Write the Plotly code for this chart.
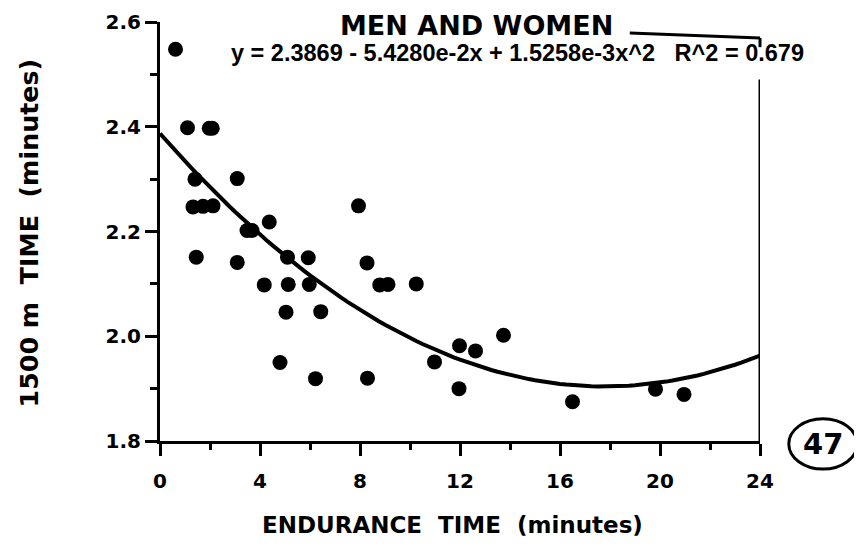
import numpy as np
import plotly.graph_objects as go

# ---- data ----
endurance_min = [0.62, 1.10, 1.97, 2.09, 1.40, 3.09, 1.32, 1.72, 2.12, 3.48, 3.68,
                 4.37, 1.45, 3.09, 5.10, 5.93, 4.17, 5.13, 5.97, 5.04, 6.43, 4.80,
                 6.22, 7.94, 8.28, 8.79, 9.12, 10.25, 8.30, 10.98, 11.98, 12.62,
                 13.74, 11.96, 16.50, 19.82, 20.96]
run1500_min = [2.548, 2.398, 2.397, 2.397, 2.300, 2.301, 2.247, 2.248, 2.249, 2.202, 2.202,
               2.218, 2.151, 2.141, 2.151, 2.150, 2.098, 2.099, 2.099, 2.046, 2.047, 1.950,
               1.919, 2.249, 2.140, 2.098, 2.099, 2.100, 1.920, 1.951, 1.982, 1.972,
               2.002, 1.900, 1.875, 1.899, 1.889]

# regression coefficients printed on the chart: y = a + b x + c x^2
fit_coef = [2.3869, -5.4280e-2, 1.5258e-3]
fit_label = "y = 2.3869 - 5.4280e-2x + 1.5258e-3x^2\u00a0\u00a0\u00a0R^2 = 0.679"

x_ticks = [0, 4, 8, 12, 16, 20, 24]
x_minor = [2, 6, 10, 14, 18, 22]
y_ticks = [1.8, 2.0, 2.2, 2.4, 2.6]
y_minor = [1.9, 2.1, 2.3, 2.5]

title_text = "MEN AND WOMEN"
x_title = "ENDURANCE\u00a0\u00a0TIME\u00a0\u00a0(minutes)"
y_title = "1500\u00a0m\u00a0\u00a0TIME\u00a0\u00a0(minutes)"
page_no = "47"

# ---- figure ----
fit_x = np.linspace(0, 24, 97)
fit_y = fit_coef[0] + fit_coef[1] * fit_x + fit_coef[2] * fit_x ** 2

fig = go.Figure()
fig.add_trace(go.Scatter(x=fit_x, y=fit_y, mode="lines",
                         line=dict(color="black", width=4), hoverinfo="skip",
                         showlegend=False, cliponaxis=False))
fig.add_trace(go.Scatter(x=endurance_min, y=run1500_min, mode="markers",
                         marker=dict(color="black", size=15, line=dict(width=0)),
                         showlegend=False, cliponaxis=False))

BOLD = "DejaVu Sans"
tickfont = dict(family=BOLD, size=20, color="black", weight="bold")

# page body has an 8px margin: figure is 854x542 so it fits in the 862x550 window
PLOT_H = 419
T = 14
fig.update_layout(
    width=854, height=542,
    margin=dict(l=152, r=102, t=T, b=109, autoexpand=False),
    paper_bgcolor="white", plot_bgcolor="white",
    xaxis=dict(range=[0, 24], tickvals=x_ticks, showgrid=False, zeroline=False,
               showline=True, linecolor="black", linewidth=3,
               ticks="outside", ticklen=12, tickwidth=3, tickcolor="black",
               tickfont=tickfont, ticklabelstandoff=8,
               minor=dict(tickvals=x_minor, ticks="outside", ticklen=6,
                          tickwidth=3, tickcolor="black", showgrid=False)),
    yaxis=dict(range=[1.8, 2.6], tickvals=y_ticks, tickformat=".1f",
               showgrid=False, zeroline=False,
               showline=True, linecolor="black", linewidth=3,
               ticks="outside", ticklen=12, tickwidth=3, tickcolor="black",
               tickfont=tickfont,
               minor=dict(tickvals=y_minor, ticks="outside", ticklen=7,
                          tickwidth=3, tickcolor="black", showgrid=False)),
)

ann = [
    dict(text=title_text, x=0.527, y=1 + T / PLOT_H - 0.001, xref="paper", yref="paper",
         showarrow=False, xanchor="center", yanchor="top",
         font=dict(family=BOLD, size=27, color="black", weight="bold")),
    dict(text=fit_label, x=0.596, y=0.925, xref="paper", yref="paper",
         showarrow=False, xanchor="center", yanchor="middle",
         font=dict(family="Liberation Sans", size=23.5, color="black", weight="bold")),
    dict(text=x_title, x=0.488, y=-0.2, xref="paper", yref="paper",
         showarrow=False, xanchor="center", yanchor="middle",
         font=dict(family=BOLD, size=23, color="black", weight="bold")),
    dict(text=y_title, x=-0.218, y=0.496, xref="paper", yref="paper",
         showarrow=False, xanchor="center", yanchor="middle", textangle=-90,
         font=dict(family=BOLD, size=25.3, color="black", weight="bold")),
    dict(text=page_no, x=1.105, y=-0.007, xref="paper", yref="paper",
         showarrow=False, xanchor="center", yanchor="middle",
         font=dict(family=BOLD, size=29, color="black", weight="bold")),
]
fig.update_layout(annotations=ann)

shapes = [
    # right frame line at x = 24
    dict(type="line", xref="x", yref="y", x0=24, x1=24, y0=1.78, y1=2.49,
         line=dict(color="black", width=3)),
    # top bracket after title
    dict(type="line", xref="paper", yref="paper", x0=0.783, x1=1.0, y0=0.974, y1=0.962,
         line=dict(color="black", width=3)),
    dict(type="line", xref="paper", yref="paper", x0=1.0, x1=1.0, y0=0.962, y1=0.940,
         line=dict(color="black", width=3)),
    # circle around page number
    dict(type="circle", xref="paper", yref="paper", x0=1.048, x1=1.162, y0=-0.067, y1=0.053,
         line=dict(color="black", width=3)),
]
fig.update_layout(shapes=shapes)

fig.write_html("out.html")
